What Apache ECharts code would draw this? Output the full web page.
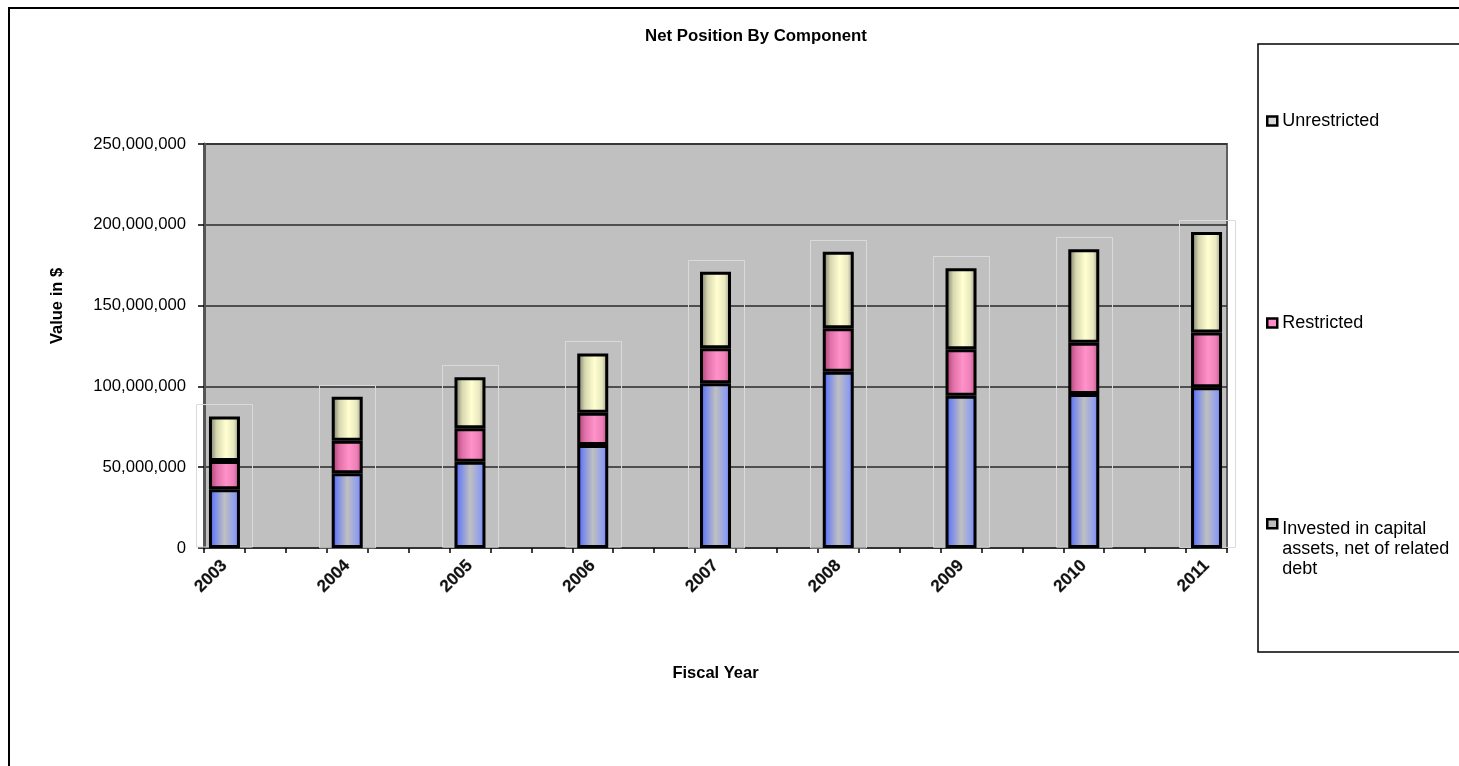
<!DOCTYPE html>
<html>
<head>
<meta charset="utf-8">
<title>Net Position By Component</title>
<script src="https://cdn.jsdelivr.net/npm/echarts@6/dist/echarts.min.js"></script>
<style>
  html, body { margin: 0; padding: 0; background: #fff; }
  #chart { width: 1459px; height: 766px; }
</style>
</head>
<body>
<div id="chart"></div>
<script>
// values (dollars)
const years = ['2003', '2004', '2005', '2006', '2007', '2008', '2009', '2010', '2011']
const invested = [36300000, 46200000, 53400000, 63700000, 102000000, 109100000, 94200000, 95300000, 99400000]
const restricted = [17500000, 20200000, 20700000, 20000000, 21600000, 26900000, 28800000, 31700000, 33900000]
const unrestricted = [27600000, 27200000, 31500000, 36700000, 47400000, 47400000, 50100000, 57800000, 62200000]
const yTicks = [0, 50000000, 100000000, 150000000, 200000000, 250000000]

// the source sheet leaves two empty columns between each year
const slotsPerYear = 3
function spread(arr, blank) {
  const out = []
  arr.forEach((v, i) => {
    out.push(v)
    if (i < arr.length - 1) {
      for (let k = 1; k < slotsPerYear; k++) out.push(blank)
    }
  })
  return out
}

const categories = spread(years, '')
const ghostData = years.map((y, i) => [i * slotsPerYear, invested[i] + restricted[i] + unrestricted[i]])

const FONT = 'Liberation Sans, Arial, sans-serif'

function hGrad(stops) {
  return {
    type: 'linear', x: 0, y: 0, x2: 1, y2: 0,
    colorStops: stops.map(s => ({ offset: s[0], color: s[1] }))
  }
}

const barStyle = (stops) => ({
  color: hGrad(stops),
  borderColor: '#000',
  borderWidth: 3
})

const chart = echarts.init(document.getElementById('chart'), null, { renderer: 'canvas' })

chart.setOption({
  animation: false,
  backgroundColor: '#fff',
  textStyle: { fontFamily: FONT },
  title: {
    text: 'Net Position By Component',
    left: 751,
    textAlign: 'center',
    top: 23,
    textStyle: { fontFamily: FONT, fontSize: 16.8, fontWeight: 'bold', color: '#000' }
  },
  legend: [
    {
      orient: 'vertical', left: 1266, top: 112, padding: 0,
      itemWidth: 10, itemHeight: 9,
      textStyle: { fontFamily: FONT, fontSize: 18, color: '#000' },
      data: [{ name: 'Unrestricted', icon: 'rect', itemStyle: { color: '#d8d8d8', borderColor: '#000', borderWidth: 2.5 } }]
    },
    {
      orient: 'vertical', left: 1266, top: 314, padding: 0,
      itemWidth: 10, itemHeight: 9,
      textStyle: { fontFamily: FONT, fontSize: 18, color: '#000' },
      data: [{ name: 'Restricted', icon: 'rect', itemStyle: { color: '#ff8cc6', borderColor: '#000', borderWidth: 2.5 } }]
    },
    {
      orient: 'vertical', left: 1266, top: 518, padding: 0,
      itemWidth: 10, itemHeight: 60,
      formatter: () => 'Invested in capital\nassets, net of related\ndebt',
      textStyle: { fontFamily: FONT, fontSize: 18, lineHeight: 20, color: '#000' },
      data: [{
        name: 'Invested in capital assets, net of related debt',
        // square sits at the top of a tall icon box so it lines up with the first text line
        icon: 'path://M0,0H10V9H0Z M10,60',
        itemStyle: { color: '#bdbdbd', borderColor: '#000', borderWidth: 2.5 }
      }]
    }
  ],
  grid: {
    left: 204, right: 232, top: 144, bottom: 218,
    show: true,
    backgroundColor: '#c0c0c0',
    borderColor: '#606060',
    borderWidth: 2
  },
  xAxis: {
    type: 'category',
    data: categories,
    boundaryGap: true,
    name: 'Fiscal Year',
    nameLocation: 'middle',
    nameGap: 117,
    nameTextStyle: { fontFamily: FONT, fontSize: 16.5, fontWeight: 'bold', color: '#000' },
    axisLine: { show: true, lineStyle: { color: '#333', width: 2 } },
    axisTick: { show: true, interval: 0, alignWithLabel: false, length: 5, lineStyle: { color: '#000', width: 1.5 } },
    axisLabel: {
      interval: 0, rotate: 45, margin: 15,
      fontFamily: FONT, fontSize: 17, fontWeight: 'bold', color: '#111',
      textBorderColor: 'rgba(0,0,0,0.35)', textBorderWidth: 0.6
    },
    splitLine: { show: false }
  },
  yAxis: {
    type: 'value',
    min: yTicks[0],
    max: yTicks[yTicks.length - 1],
    interval: yTicks[1] - yTicks[0],
    axisLine: { show: true, lineStyle: { color: '#555', width: 3 } },
    axisTick: { show: true, inside: false, length: 6, lineStyle: { color: '#000', width: 1.5 } },
    axisLabel: {
      margin: 18,
      fontFamily: FONT, fontSize: 16.7, color: '#000',
      formatter: v => v.toLocaleString('en-US')
    },
    splitLine: { show: true, lineStyle: { color: '#2a2a2a', width: 1.5 } }
  },
  graphic: [
    {
      type: 'rect', silent: true, z: -10,
      shape: { x: 9, y: 8, width: 1500, height: 800 },
      style: { fill: 'none', stroke: '#000', lineWidth: 2 }
    },
    {
      type: 'rect', silent: true,
      shape: { x: 1258, y: 44, width: 300, height: 608 },
      style: { fill: 'none', stroke: '#000', lineWidth: 1.5 }
    },
    {
      type: 'text', silent: true,
      x: 57, y: 306, rotation: Math.PI / 2,
      style: {
        text: 'Value in $',
        fontFamily: FONT, fontSize: 16.5, fontWeight: 'bold', fill: '#000',
        align: 'center', verticalAlign: 'middle'
      }
    }
  ],
  series: [
    {
      // faint depth outline behind each stack
      type: 'custom',
      name: 'ghost',
      silent: true,
      z: 1,
      data: ghostData,
      encode: { x: 0, y: 1 },
      renderItem(params, api) {
        const top = api.coord([api.value(0), api.value(1)])
        const base = api.coord([api.value(0), 0])
        const w = 56
        return {
          type: 'rect',
          shape: { x: Math.round(top[0] - w / 2) + 0.5, y: Math.round(top[1] - 12) + 0.5, width: w, height: base[1] - top[1] + 11 },
          style: { fill: 'none', stroke: '#dadada', lineWidth: 1 }
        }
      }
    },
    {
      name: 'Invested in capital assets, net of related debt',
      type: 'bar', stack: 'total', barWidth: 31, z: 3,
      data: spread(invested, null),
      itemStyle: barStyle([[0, '#3355ff'], [0.15, '#6f82f0'], [0.5, '#c0c0c0'], [0.85, '#8d9cf0'], [1, '#4d6dff']])
    },
    {
      name: 'Restricted',
      type: 'bar', stack: 'total', barWidth: 31, z: 3,
      data: spread(restricted, null),
      itemStyle: barStyle([[0, '#a33a6a'], [0.25, '#e070a8'], [0.55, '#ff92c9'], [0.8, '#ee80b8'], [1, '#b04c7c']])
    },
    {
      name: 'Unrestricted',
      type: 'bar', stack: 'total', barWidth: 31, z: 3,
      data: spread(unrestricted, null),
      itemStyle: barStyle([[0, '#6e6e60'], [0.25, '#d8d8b0'], [0.55, '#ffffd0'], [0.8, '#e8e8c0'], [1, '#8c8c7c']])
    }
  ]
})
</script>
</body>
</html>
